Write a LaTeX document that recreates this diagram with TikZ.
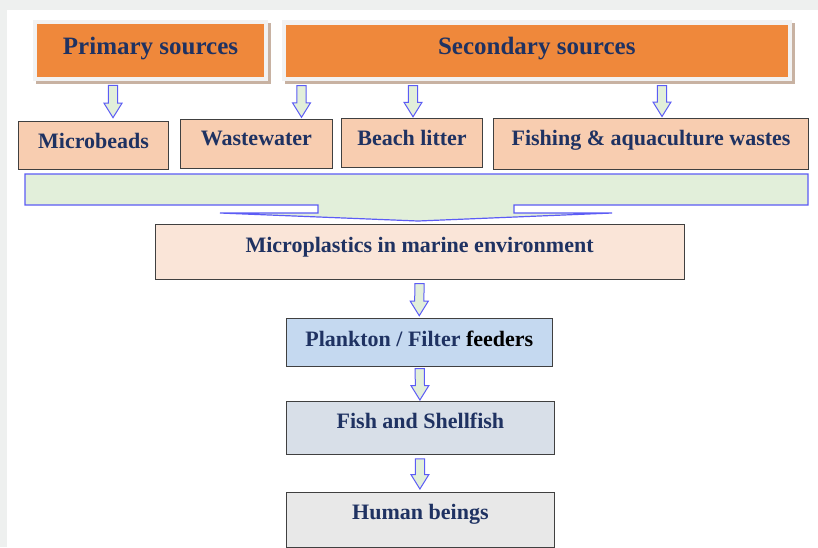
\documentclass[tikz,border=0pt]{standalone}
\usepackage{fontspec}
\setmainfont{Liberation Serif}
\usetikzlibrary{calc,shadows}
\definecolor{bggray}{HTML}{EEF0EF}
\definecolor{navy}{HTML}{1F3262}
\definecolor{orangec}{HTML}{EF883B}
\definecolor{framegray}{HTML}{F2F2F2}
\definecolor{shadowc}{HTML}{C8B2A2}
\definecolor{peach}{HTML}{F8CDB0}
\definecolor{lightpeach}{HTML}{FAE5D8}
\definecolor{plank}{HTML}{C5D9F0}
\definecolor{fishc}{HTML}{D8DFE8}
\definecolor{humanc}{HTML}{E8E8E8}
\definecolor{boxline}{HTML}{404040}
\definecolor{arrowblue}{HTML}{5C5CF5}
\definecolor{bandgreen}{HTML}{E2EFDA}
\newcommand{\blkarrow}[2]{\filldraw[blk] ($(#1)+(-4.6,0)$) -- ($(#2)+(-4.6,-14.5)$) -- ($(#2)+(-9,-14.5)$) -- (#2) -- ($(#2)+(9,-14.5)$) -- ($(#2)+(4.6,-14.5)$) -- ($(#1)+(4.6,0)$) -- cycle;}
\begin{document}
\begin{tikzpicture}[x=1pt,y=-1pt,
  box/.style={draw=boxline, line width=1.1pt, inner sep=0pt, anchor=north west, text=navy, font=\bfseries\fontsize{22}{26}\selectfont},
  framebox/.style={fill=framegray, inner sep=0pt, anchor=north west, general shadow={fill=shadowc, shadow xshift=3pt, shadow yshift=-3pt}},
  headbox/.style={fill=orangec, inner sep=0pt, anchor=north west, text=navy, font=\bfseries\fontsize{25}{30}\selectfont},
  blk/.style={draw=arrowblue, fill=bandgreen, line width=1pt, line join=miter}]
\useasboundingbox (0,0) rectangle (818,547);
\fill[bggray] (0,0) rectangle (818,547);
\fill[white] (7,10) rectangle (818,547);
% header frames
\node[framebox, minimum width=235.3pt, minimum height=60.8pt] (fP) at (32.7,19.7) {};
\node[framebox, minimum width=510pt, minimum height=60.7pt] (fS) at (281.7,20) {};
\node[headbox, minimum width=227.3pt, text height=30.3pt, text depth=22.7pt] (prim) at (36.7,24) {Primary sources};
\node[headbox, minimum width=502.3pt, text height=30pt, text depth=22.7pt] (sec) at (285.4,24.3) {Secondary sources};
% source boxes
\node[box, fill=peach, minimum width=150pt, text height=27pt, text depth=21.3pt] (mb) at (18,120.7) {Microbeads};
\node[box, fill=peach, minimum width=151.7pt, text height=25.7pt, text depth=22.7pt] (ww) at (180,119.3) {Wastewater};
\node[box, fill=peach, minimum width=141.6pt, text height=26.7pt, text depth=22.3pt] (bl) at (340.7,118.3) {Beach litter};
\node[box, fill=peach, minimum width=315.6pt, text height=27pt, text depth=23.7pt] (fi) at (492.7,118) {Fishing \& aquaculture wastes};
% band arrow
\filldraw[draw=arrowblue, fill=bandgreen, line width=1.2pt, line join=miter]
  (25,174) -- (808,174) -- (808,205) -- (514,205) -- (514,213) -- (612,213) -- (418,221)
  -- (220,213) -- (318,213) -- (318,205) -- (25,205) -- cycle;
% lower boxes
\node[box, fill=lightpeach, minimum width=529pt, text height=28pt, text depth=26.5pt] (mp) at (154.5,224) {Microplastics in marine environment};
\node[box, fill=plank, minimum width=266pt, text height=27.4pt, text depth=20.3pt] (pl) at (285.7,318.3) {Plankton / Filter \textcolor{black}{feeders}};
\node[box, fill=fishc, minimum width=268.3pt, text height=27.3pt, text depth=25.4pt] (fs) at (285.7,401) {Fish and Shellfish};
\node[box, fill=humanc, minimum width=268.3pt, text height=26.7pt, text depth=27.7pt] (hb) at (285.7,492.3) {Human beings};
% arrow coordinates
\coordinate (a1s) at ($(113,0 |- fP.south)+(0,4.5)$);
\coordinate (a1e) at ($(113,0 |- mb.north)+(0,-3)$);
\coordinate (a2s) at ($(301.5,0 |- fS.south)+(0,4.5)$);
\coordinate (a2e) at ($(301.5,0 |- ww.north)+(0,-2)$);
\coordinate (a3s) at ($(413,0 |- fS.south)+(0,4.5)$);
\coordinate (a3e) at ($(413,0 |- bl.north)+(0,-1.5)$);
\coordinate (a4s) at ($(662,0 |- fS.south)+(0,4.5)$);
\coordinate (a4e) at ($(662,0 |- fi.north)+(0,-1.5)$);
\coordinate (a5s) at ($(mp.south)+(0,4)$);
\coordinate (a5e) at ($(pl.north)+(0,-2.6)$);
\coordinate (a6s) at ($(pl.south)+(0.5,1.5)$);
\coordinate (a6e) at ($(fs.north)+(-0.5,-1)$);
\coordinate (a7s) at ($(fs.south)+(-0.5,4)$);
\coordinate (a7e) at ($(hb.north)+(-0.5,-3.3)$);
\blkarrow{a1s}{a1e}
\blkarrow{a2s}{a2e}
\blkarrow{a3s}{a3e}
\blkarrow{a4s}{a4e}
\blkarrow{a5s}{a5e}
\blkarrow{a6s}{a6e}
\blkarrow{a7s}{a7e}
\end{tikzpicture}
\end{document}
